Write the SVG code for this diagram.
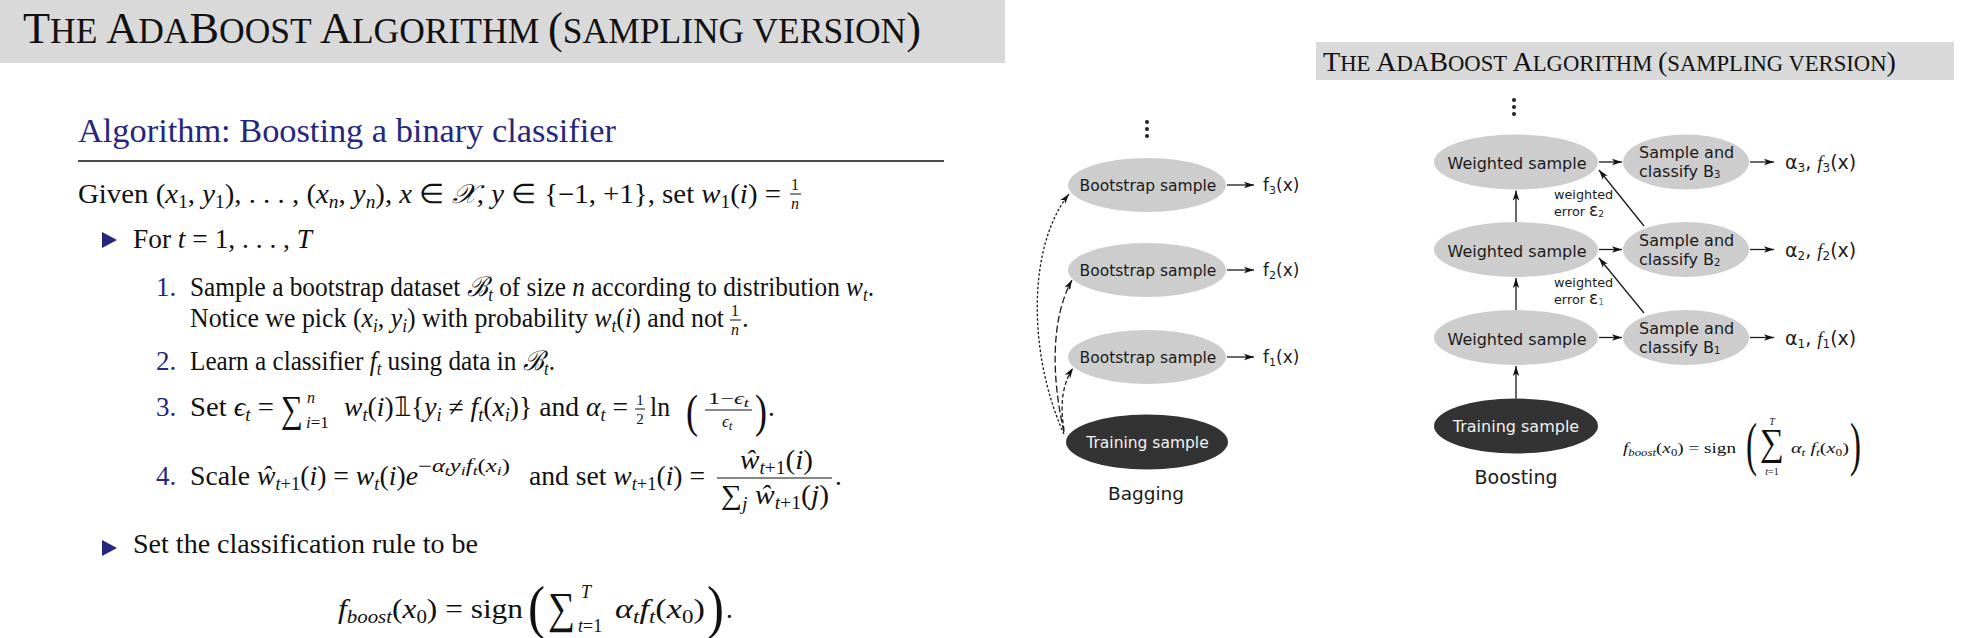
<svg xmlns="http://www.w3.org/2000/svg" width="1978" height="638" viewBox="0 0 1978 638">
<style>
.s{font-family:"Liberation Serif","Times New Roman",serif;font-size:27px;fill:#111}
.i{font-style:italic}
.sb{font-size:18px}
.ssb{font-size:13px}
.nav{fill:#26267e}
.d{font-family:"DejaVu Sans","Liberation Sans",sans-serif;fill:#1a1a1a}
.lt{font-size:16px}
.gr{fill:#cdcdcd}
.dk{fill:#333333}
.ln{stroke:#1a1a1a;stroke-width:1.3;fill:none}
.dash1{stroke-dasharray:2.5 2}
.dash2{stroke-dasharray:7 3}
.dash3{stroke-dasharray:4 2.5}
.band{fill:#d9d9d9}
</style>
<defs>
<marker id="ah" viewBox="0 0 10 8" refX="10" refY="4" markerWidth="10" markerHeight="8" markerUnits="userSpaceOnUse" orient="auto">
<path d="M0,0.8 L10,4 L0,7.2 L2.5,4 z" fill="#111"/>
</marker>
</defs>

<!-- LEFT PANEL -->
<g id="left-header">
<rect class="band" x="0" y="0" width="1005" height="63"/>
<text class="s" x="23" y="43" textLength="898" lengthAdjust="spacingAndGlyphs"><tspan font-size="43.7">T</tspan><tspan font-size="35">HE </tspan><tspan font-size="43.7">A</tspan><tspan font-size="35">DA</tspan><tspan font-size="43.7">B</tspan><tspan font-size="35">OOST </tspan><tspan font-size="43.7">A</tspan><tspan font-size="35">LGORITHM </tspan><tspan font-size="43.7">(</tspan><tspan font-size="35">SAMPLING VERSION</tspan><tspan font-size="43.7">)</tspan></text>
</g>

<g id="algorithm">
<text class="s nav" x="78" y="142" style="font-size:33px" textLength="538" lengthAdjust="spacingAndGlyphs">Algorithm: Boosting a binary classifier</text>
<line x1="78" y1="161" x2="944" y2="161" stroke="#111" stroke-width="1.6"/>

<!-- Given line -->
<text class="s" x="78" y="203" textLength="703" lengthAdjust="spacingAndGlyphs">Given (<tspan class="i">x</tspan><tspan class="sb" dy="5">1</tspan><tspan dy="-5">, </tspan><tspan class="i">y</tspan><tspan class="sb" dy="5">1</tspan><tspan dy="-5">), . . . , (</tspan><tspan class="i">x</tspan><tspan class="sb i" dy="5">n</tspan><tspan dy="-5">, </tspan><tspan class="i">y</tspan><tspan class="sb i" dy="5">n</tspan><tspan dy="-5">), </tspan><tspan class="i">x</tspan> ∈ <tspan class="i">𝒳</tspan>, <tspan class="i">y</tspan> ∈ {−1, +1}, set <tspan class="i">w</tspan><tspan class="sb" dy="5">1</tspan><tspan dy="-5">(</tspan><tspan class="i">i</tspan>) =</text>
<text class="s" x="795" y="190" style="font-size:16px" text-anchor="middle">1</text>
<line x1="790" y1="194" x2="801" y2="194" stroke="#111" stroke-width="1"/>
<text class="s i" x="795" y="209" style="font-size:16px" text-anchor="middle">n</text>

<!-- For line -->
<path class="nav" d="M102,232 L117,240 L102,248 z"/>
<text class="s" x="133" y="248" textLength="179" lengthAdjust="spacingAndGlyphs">For <tspan class="i">t</tspan> = 1, . . . , <tspan class="i">T</tspan></text>

<!-- item 1 -->
<text class="s nav" x="156" y="296">1.</text>
<text class="s" x="190" y="296" textLength="684" lengthAdjust="spacingAndGlyphs">Sample a bootstrap dataset <tspan class="i">ℬ</tspan><tspan class="sb i" dy="5">t</tspan><tspan dy="-5"> of size </tspan><tspan class="i">n</tspan> according to distribution <tspan class="i">w</tspan><tspan class="sb i" dy="5">t</tspan><tspan dy="-5">.</tspan></text>
<text class="s" x="190" y="327" textLength="534" lengthAdjust="spacingAndGlyphs">Notice we pick (<tspan class="i">x</tspan><tspan class="sb i" dy="5">i</tspan><tspan dy="-5">, </tspan><tspan class="i">y</tspan><tspan class="sb i" dy="5">i</tspan><tspan dy="-5">) with probability </tspan><tspan class="i">w</tspan><tspan class="sb i" dy="5">t</tspan><tspan dy="-5">(</tspan><tspan class="i">i</tspan>) and not</text>
<text class="s" x="735" y="316" style="font-size:16px" text-anchor="middle">1</text>
<line x1="730" y1="320" x2="741" y2="320" stroke="#111" stroke-width="1"/>
<text class="s i" x="735" y="335" style="font-size:16px" text-anchor="middle">n</text>
<text class="s" x="742" y="327">.</text>

<!-- item 2 -->
<text class="s nav" x="156" y="370">2.</text>
<text class="s" x="190" y="370" textLength="365" lengthAdjust="spacingAndGlyphs">Learn a classifier <tspan class="i">f</tspan><tspan class="sb i" dy="5">t</tspan><tspan dy="-5"> using data in </tspan><tspan class="i">ℬ</tspan><tspan class="sb i" dy="5">t</tspan><tspan dy="-5">.</tspan></text>

<!-- item 3 -->
<text class="s nav" x="156" y="416">3.</text>
<text class="s" x="190" y="416" textLength="84" lengthAdjust="spacingAndGlyphs">Set <tspan class="i">ϵ</tspan><tspan class="sb i" dy="5">t</tspan><tspan dy="-5"> =</tspan></text>
<text class="s" x="281" y="422" style="font-size:38px" textLength="22" lengthAdjust="spacingAndGlyphs">∑</text>
<text class="s i" x="307" y="403" style="font-size:16px">n</text>
<text class="s" x="306" y="428" style="font-size:17px"><tspan class="i">i</tspan>=1</text>
<text class="s" x="344" y="416" textLength="284" lengthAdjust="spacingAndGlyphs"><tspan class="i">w</tspan><tspan class="sb i" dy="5">t</tspan><tspan dy="-5">(</tspan><tspan class="i">i</tspan>)𝟙{<tspan class="i">y</tspan><tspan class="sb i" dy="5">i</tspan><tspan dy="-5"> ≠ </tspan><tspan class="i">f</tspan><tspan class="sb i" dy="5">t</tspan><tspan dy="-5">(</tspan><tspan class="i">x</tspan><tspan class="sb i" dy="5">i</tspan><tspan dy="-5">)} and </tspan><tspan class="i">α</tspan><tspan class="sb i" dy="5">t</tspan><tspan dy="-5"> =</tspan></text>
<text class="s" x="640" y="405" style="font-size:15px" text-anchor="middle">1</text>
<line x1="635" y1="409" x2="645" y2="409" stroke="#111" stroke-width="1"/>
<text class="s" x="640" y="424" style="font-size:15px" text-anchor="middle">2</text>
<text class="s" x="650" y="416" textLength="20" lengthAdjust="spacingAndGlyphs">ln</text>
<text class="s" x="686" y="427" style="font-size:46px" textLength="12" lengthAdjust="spacingAndGlyphs">(</text>
<text class="s" x="708" y="404" style="font-size:17px" textLength="41" lengthAdjust="spacingAndGlyphs">1−<tspan class="i">ϵ</tspan><tspan class="ssb i" dy="3">t</tspan></text>
<line x1="705" y1="410" x2="752" y2="410" stroke="#111" stroke-width="1"/>
<text class="s" x="722" y="427" style="font-size:17px"><tspan class="i">ϵ</tspan><tspan class="ssb i" dy="3">t</tspan></text>
<text class="s" x="755" y="427" style="font-size:46px" textLength="12" lengthAdjust="spacingAndGlyphs">)</text>
<text class="s" x="768" y="416">.</text>

<!-- item 4 -->
<text class="s nav" x="156" y="485">4.</text>
<text class="s" x="190" y="485" textLength="228" lengthAdjust="spacingAndGlyphs">Scale <tspan class="i">ŵ</tspan><tspan class="sb i" dy="5">t</tspan><tspan class="sb">+1</tspan><tspan dy="-5">(</tspan><tspan class="i">i</tspan>) = <tspan class="i">w</tspan><tspan class="sb i" dy="5">t</tspan><tspan dy="-5">(</tspan><tspan class="i">i</tspan>)<tspan class="i">e</tspan></text>
<text class="s" x="418" y="472" style="font-size:18px" textLength="92" lengthAdjust="spacingAndGlyphs">−<tspan class="i">α</tspan><tspan class="ssb i" dy="3">t</tspan><tspan class="i" dy="-3">y</tspan><tspan class="ssb i" dy="3">i</tspan><tspan class="i" dy="-3">f</tspan><tspan class="ssb i" dy="3">t</tspan><tspan dy="-3">(</tspan><tspan class="i">x</tspan><tspan class="ssb i" dy="3">i</tspan><tspan dy="-3">)</tspan></text>
<text class="s" x="529" y="485" textLength="176" lengthAdjust="spacingAndGlyphs">and set <tspan class="i">w</tspan><tspan class="sb i" dy="5">t</tspan><tspan class="sb">+1</tspan><tspan dy="-5">(</tspan><tspan class="i">i</tspan>) =</text>
<text class="s" x="740" y="469" textLength="73" lengthAdjust="spacingAndGlyphs"><tspan class="i">ŵ</tspan><tspan class="sb i" dy="5">t</tspan><tspan class="sb">+1</tspan><tspan dy="-5">(</tspan><tspan class="i">i</tspan>)</text>
<line x1="717" y1="478" x2="832" y2="478" stroke="#111" stroke-width="1.2"/>
<text class="s" x="721" y="504" textLength="108" lengthAdjust="spacingAndGlyphs">∑<tspan class="sb i" dy="6">j</tspan><tspan dy="-6"> </tspan><tspan class="i">ŵ</tspan><tspan class="sb i" dy="5">t</tspan><tspan class="sb">+1</tspan><tspan dy="-5">(</tspan><tspan class="i">j</tspan>)</text>
<text class="s" x="835" y="485">.</text>

<!-- set rule -->
<path class="nav" d="M102,540 L117,548 L102,556 z"/>
<text class="s" x="133" y="553" textLength="345" lengthAdjust="spacingAndGlyphs">Set the classification rule to be</text>

<!-- final formula -->
<text class="s" x="338" y="618" textLength="185" lengthAdjust="spacingAndGlyphs"><tspan class="i">f</tspan><tspan class="sb i" dy="5">boost</tspan><tspan dy="-5">(</tspan><tspan class="i">x</tspan><tspan class="sb" dy="5">0</tspan><tspan dy="-5">) = sign</tspan></text>
<text class="s" x="528" y="627" style="font-size:60px" textLength="17" lengthAdjust="spacingAndGlyphs">(</text>
<text class="s" x="548" y="623" style="font-size:44px" textLength="27" lengthAdjust="spacingAndGlyphs">∑</text>
<text class="s i" x="581" y="598" style="font-size:18px">T</text>
<text class="s" x="578" y="632" style="font-size:18px"><tspan class="i">t</tspan>=1</text>
<text class="s" x="615" y="618" textLength="90" lengthAdjust="spacingAndGlyphs"><tspan class="i">α</tspan><tspan class="sb i" dy="5">t</tspan><tspan class="i" dy="-5">f</tspan><tspan class="sb i" dy="5">t</tspan><tspan dy="-5">(</tspan><tspan class="i">x</tspan><tspan class="sb" dy="5">0</tspan><tspan dy="-5">)</tspan></text>
<text class="s" x="707" y="627" style="font-size:60px" textLength="17" lengthAdjust="spacingAndGlyphs">)</text>
<text class="s" x="726" y="618">.</text>
</g>

<!-- BAGGING -->
<g id="bagging-dots">
<circle cx="1147" cy="122" r="2" fill="#222"/>
<circle cx="1147" cy="129" r="2" fill="#222"/>
<circle cx="1147" cy="136" r="2" fill="#222"/>
</g>
<g id="bag-b3">
<ellipse class="gr" cx="1147" cy="185" rx="79" ry="27"/>
<text class="d" x="1148" y="190.5" font-size="15.5" text-anchor="middle">Bootstrap sample</text>
</g>
<g id="bag-b2">
<ellipse class="gr" cx="1147" cy="270" rx="79" ry="27"/>
<text class="d" x="1148" y="275.5" font-size="15.5" text-anchor="middle">Bootstrap sample</text>
</g>
<g id="bag-b1">
<ellipse class="gr" cx="1147" cy="357" rx="79" ry="27"/>
<text class="d" x="1148" y="362.5" font-size="15.5" text-anchor="middle">Bootstrap sample</text>
</g>
<g id="bag-train">
<ellipse class="dk" cx="1147" cy="442" rx="81" ry="27.5"/>
<text class="d" x="1147.5" y="447.5" font-size="15.5" text-anchor="middle" style="fill:#f2f2f2">Training sample</text>
</g>
<g id="bag-f3"><text class="d" x="1263" y="191" font-size="17">f<tspan font-size="11" dy="3">3</tspan><tspan dy="-3">(x)</tspan></text></g>
<g id="bag-f2"><text class="d" x="1263" y="276" font-size="17">f<tspan font-size="11" dy="3">2</tspan><tspan dy="-3">(x)</tspan></text></g>
<g id="bag-f1"><text class="d" x="1263" y="363" font-size="17">f<tspan font-size="11" dy="3">1</tspan><tspan dy="-3">(x)</tspan></text></g>
<g id="bag-label"><text class="d" x="1146" y="500" font-size="18.5" text-anchor="middle">Bagging</text></g>

<!-- BOOSTING -->
<g id="right-header">
<rect class="band" x="1316" y="42" width="638" height="38"/>
<text class="s" x="1323" y="71" textLength="573" lengthAdjust="spacingAndGlyphs"><tspan font-size="28">T</tspan><tspan font-size="22.5">HE </tspan><tspan font-size="28">A</tspan><tspan font-size="22.5">DA</tspan><tspan font-size="28">B</tspan><tspan font-size="22.5">OOST </tspan><tspan font-size="28">A</tspan><tspan font-size="22.5">LGORITHM </tspan><tspan font-size="28">(</tspan><tspan font-size="22.5">SAMPLING VERSION</tspan><tspan font-size="28">)</tspan></text>
</g>
<g id="boost-dots">
<circle cx="1514" cy="100" r="2" fill="#222"/>
<circle cx="1514" cy="107" r="2" fill="#222"/>
<circle cx="1514" cy="114" r="2" fill="#222"/>
</g>
<g id="w3">
<ellipse class="gr" cx="1516" cy="162" rx="82" ry="27.5"/>
<text class="d lt" x="1517" y="169" text-anchor="middle">Weighted sample</text>
</g>
<g id="w2">
<ellipse class="gr" cx="1516" cy="249.5" rx="82" ry="27.5"/>
<text class="d lt" x="1517" y="256.5" text-anchor="middle">Weighted sample</text>
</g>
<g id="w1">
<ellipse class="gr" cx="1516" cy="337.5" rx="82" ry="27.5"/>
<text class="d lt" x="1517" y="344.5" text-anchor="middle">Weighted sample</text>
</g>
<g id="boost-train">
<ellipse class="dk" cx="1516" cy="426" rx="82" ry="27.5"/>
<text class="d lt" x="1516" y="432" text-anchor="middle" style="fill:#f2f2f2">Training sample</text>
</g>
<g id="s3">
<ellipse class="gr" cx="1686" cy="162" rx="63" ry="27.5"/>
<text class="d lt" x="1639" y="158">Sample and</text>
<text class="d lt" x="1639" y="177">classify B<tspan font-size="10" dy="1">3</tspan></text>
</g>
<g id="s2">
<ellipse class="gr" cx="1686" cy="249.5" rx="63" ry="27.5"/>
<text class="d lt" x="1639" y="245.5">Sample and</text>
<text class="d lt" x="1639" y="264.5">classify B<tspan font-size="10" dy="1">2</tspan></text>
</g>
<g id="s1">
<ellipse class="gr" cx="1686" cy="337.5" rx="63" ry="27.5"/>
<text class="d lt" x="1639" y="333.5">Sample and</text>
<text class="d lt" x="1639" y="352.5">classify B<tspan font-size="10" dy="1">1</tspan></text>
</g>
<g id="a3"><text class="d" x="1785" y="169" font-size="19">α<tspan font-size="12" dy="3">3</tspan><tspan dy="-3">, </tspan><tspan style="font-family:'Liberation Serif',serif;font-style:italic">f</tspan><tspan font-size="12" dy="3">3</tspan><tspan dy="-3">(x)</tspan></text></g>
<g id="a2"><text class="d" x="1785" y="256.5" font-size="19">α<tspan font-size="12" dy="3">2</tspan><tspan dy="-3">, </tspan><tspan style="font-family:'Liberation Serif',serif;font-style:italic">f</tspan><tspan font-size="12" dy="3">2</tspan><tspan dy="-3">(x)</tspan></text></g>
<g id="a1"><text class="d" x="1785" y="344.5" font-size="19">α<tspan font-size="12" dy="3">1</tspan><tspan dy="-3">, </tspan><tspan style="font-family:'Liberation Serif',serif;font-style:italic">f</tspan><tspan font-size="12" dy="3">1</tspan><tspan dy="-3">(x)</tspan></text></g>
<g id="err2">
<text class="d" x="1554" y="199" font-size="12.8">weighted</text>
<text class="d" x="1554" y="216" font-size="12.8">error <tspan font-size="17">ε</tspan><tspan font-size="9" dy="1">2</tspan></text>
</g>
<g id="err1">
<text class="d" x="1554" y="286.5" font-size="12.8">weighted</text>
<text class="d" x="1554" y="303.5" font-size="12.8">error <tspan font-size="17">ε</tspan><tspan font-size="9" dy="1" style="fill:#3d7fb5">1</tspan></text>
</g>
<g id="boost-formula">
<text class="s" x="1623" y="453" style="font-size:15px" textLength="113" lengthAdjust="spacingAndGlyphs"><tspan class="i">f</tspan><tspan class="i" style="font-size:10px" dy="3">boost</tspan><tspan dy="-3">(</tspan><tspan class="i">x</tspan><tspan style="font-size:10px" dy="3">0</tspan><tspan dy="-3">) = sign</tspan></text>
<text class="s" x="1746" y="464" style="font-size:60px" textLength="11" lengthAdjust="spacingAndGlyphs">(</text>
<text class="s" x="1760" y="455" style="font-size:38px" textLength="24" lengthAdjust="spacingAndGlyphs">∑</text>
<text class="s i" x="1772" y="425" style="font-size:10px" text-anchor="middle">T</text>
<text class="s" x="1772" y="475" style="font-size:10px" text-anchor="middle"><tspan class="i">t</tspan>=1</text>
<text class="s" x="1791" y="453" style="font-size:15px" textLength="58" lengthAdjust="spacingAndGlyphs"><tspan class="i">α</tspan><tspan class="i" style="font-size:10px" dy="3">t</tspan><tspan class="i" dy="-3"> f</tspan><tspan class="i" style="font-size:10px" dy="3">t</tspan><tspan dy="-3">(</tspan><tspan class="i">x</tspan><tspan style="font-size:10px" dy="3">0</tspan><tspan dy="-3">)</tspan></text>
<text class="s" x="1850" y="464" style="font-size:60px" textLength="11" lengthAdjust="spacingAndGlyphs">)</text>
</g>
<g id="boost-label"><text class="d" x="1516" y="484" font-size="19" text-anchor="middle">Boosting</text></g>

<!-- CONNECTORS -->
<g id="connectors">
<line class="ln" x1="1227" y1="185" x2="1254" y2="185" marker-end="url(#ah)"/>
<line class="ln" x1="1227" y1="270" x2="1254" y2="270" marker-end="url(#ah)"/>
<line class="ln" x1="1227" y1="357" x2="1254" y2="357" marker-end="url(#ah)"/>
<path class="ln dash1" d="M1064,434 C1030,360 1025,250 1069,194" marker-end="url(#ah)"/>
<path class="ln dash2" d="M1064,432 C1052,380 1050,320 1072,280" marker-end="url(#ah)"/>
<path class="ln dash3" d="M1064,430 C1060,405 1062,385 1073,368" marker-end="url(#ah)"/>

<line class="ln" x1="1516" y1="398.5" x2="1516" y2="366" marker-end="url(#ah)"/>
<line class="ln" x1="1516" y1="310" x2="1516" y2="278" marker-end="url(#ah)"/>
<line class="ln" x1="1516" y1="222" x2="1516" y2="190.5" marker-end="url(#ah)"/>
<line class="ln" x1="1599" y1="162" x2="1622" y2="162" marker-end="url(#ah)"/>
<line class="ln" x1="1599" y1="249.5" x2="1622" y2="249.5" marker-end="url(#ah)"/>
<line class="ln" x1="1599" y1="337.5" x2="1622" y2="337.5" marker-end="url(#ah)"/>
<line class="ln" x1="1750" y1="162" x2="1774" y2="162" marker-end="url(#ah)"/>
<line class="ln" x1="1750" y1="249.5" x2="1774" y2="249.5" marker-end="url(#ah)"/>
<line class="ln" x1="1750" y1="337.5" x2="1774" y2="337.5" marker-end="url(#ah)"/>
<line class="ln" x1="1644" y1="313" x2="1599" y2="258" marker-end="url(#ah)"/>
<line class="ln" x1="1644" y1="226" x2="1599" y2="170" marker-end="url(#ah)"/>
</g>
</svg>
